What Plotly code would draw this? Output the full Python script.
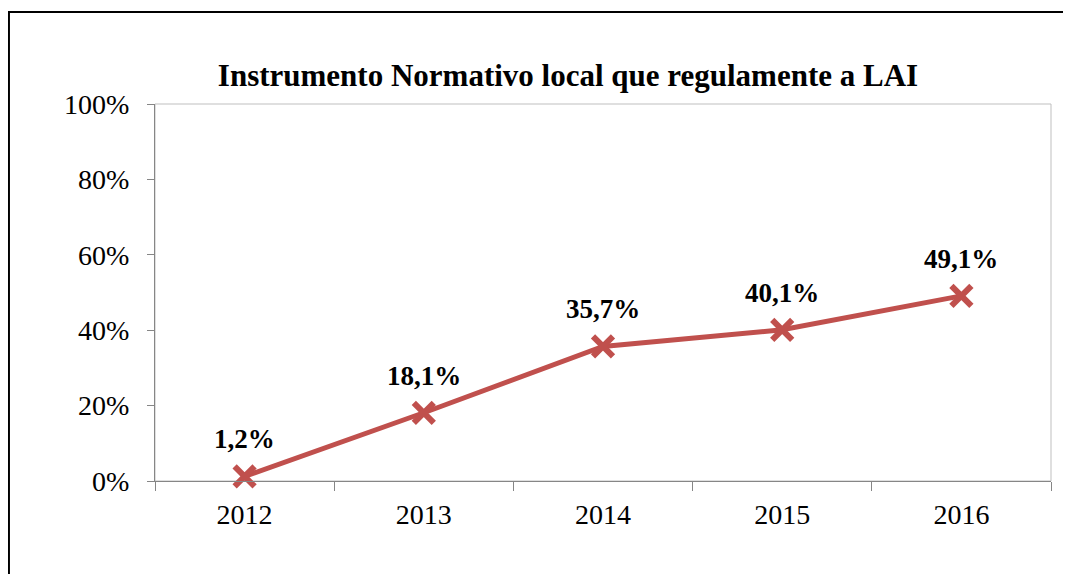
import plotly.graph_objects as go

# dados
anos = ["2012", "2013", "2014", "2015", "2016"]
percentuais = [1.2, 18.1, 35.7, 40.1, 49.1]
rotulos = ["1,2%", "18,1%", "35,7%", "40,1%", "49,1%"]
y_ticks = [0, 20, 40, 60, 80, 100]
y_tick_text = ["0%", "20%", "40%", "60%", "80%", "100%"]

COR = "#C0504D"
FONTE = "Liberation Serif, Times New Roman, serif"

fig = go.Figure(go.Scatter(
    x=anos, y=percentuais, mode="lines+markers",
    line=dict(color=COR, width=5),
    marker=dict(symbol="x-thin", size=20, line=dict(color=COR, width=6), color=COR),
    cliponaxis=False, showlegend=False,
))

# rótulos de dados acima dos pontos (x = índice da categoria)
for i, (val, rot) in enumerate(zip(percentuais, rotulos)):
    fig.add_annotation(x=i, y=val, text="<b>" + rot + "</b>", showarrow=False,
                       yanchor="middle", yshift=37,
                       font=dict(family=FONTE, size=27, color="black"))

# a página tem margem de 8px no body -> figura 8px menor e tudo deslocado
fig.update_layout(
    width=1063, height=566,
    margin=dict(l=147, r=20, t=96, b=93),
    paper_bgcolor="white", plot_bgcolor="white",
    title=dict(text="<b>Instrumento Normativo local que regulamente a LAI</b>",
               x=560 / 1063, xanchor="center", xref="container",
               y=1 - 67 / 566, yanchor="middle", yref="container",
               font=dict(family=FONTE, size=31, color="black")),
    font=dict(family=FONTE, size=28, color="black"),
)
fig.update_xaxes(type="category", range=[-0.5, len(anos) - 0.5],
                 tickson="boundaries", ticks="outside", ticklen=9,
                 tickcolor="#868686", showline=True, linecolor="#868686",
                 showgrid=False, tickfont=dict(size=28), ticklabelstandoff=8)
fig.update_yaxes(range=[0, 100], tickvals=y_ticks, ticktext=y_tick_text,
                 ticks="outside", ticklen=7, tickcolor="#868686",
                 showline=True, linecolor="#868686", showgrid=False, zeroline=False,
                 tickfont=dict(size=28), ticklabelstandoff=12)

# borda clara da área de plotagem e moldura do gráfico
fig.add_shape(type="rect", xref="paper", yref="paper", x0=0, x1=1, y0=0, y1=1,
              line=dict(color="#BFBFBF", width=1), layer="below")
fig.add_shape(type="rect", xref="paper", yref="paper", x0=-0.163, x1=1.2, y0=-0.6, y1=1.244,
              line=dict(color="black", width=2))

fig.write_html("out.html")
